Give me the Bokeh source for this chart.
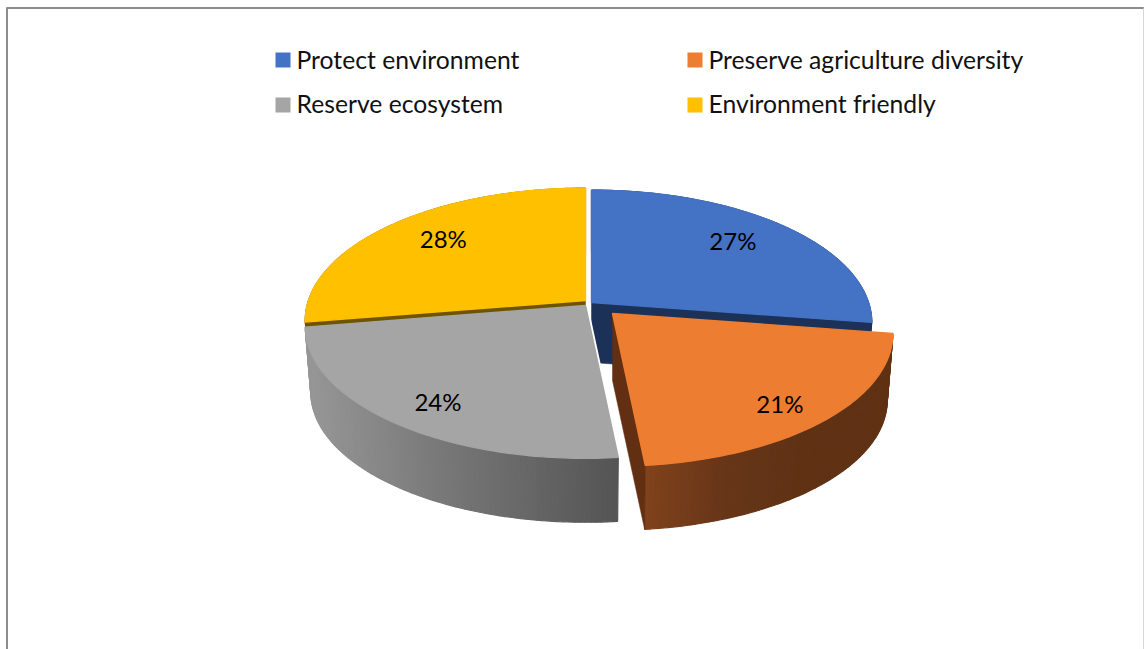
import numpy as np
from bokeh.plotting import figure
from bokeh.models import Range1d
from bokeh.core.properties import value
from bokeh.embed import file_html
from bokeh.resources import INLINE

# --- data ---
categories = ["Protect environment", "Preserve agriculture diversity", "Reserve ecosystem", "Environment friendly"]
shares = [27.4, 21.0, 24.0, 27.6]

# --- styles ---
top_colors = ["#4472C4", "#ED7D31", "#A5A5A5", "#FFC000"]
cut_colors = ["#1B3157", "#632F12", "#555555", "#6E5400"]
FONT = "Lato"

# --- pie geometry (screen pixels; y grows downwards) ---
R, B, K = 277.0, 129.5, 0.1525      # perspective ellipse
BASE_SCALE = 0.98
apex_x = [591, 612, 585, 585]
apex_y = [302, 313, 305, 300]
depth = [60, 67, 67, 65]
label_fx = [0.74, 0.78, 0.77, 0.74]
label_fy = [0.81, 0.85, 0.82, 0.81]


def proj(theta):
    c, s = np.cos(theta), np.sin(theta)
    d = 1 + K * c
    return R * s / d, -B * c / d


def lerp_stops(x, stops):
    xs = [a for a, _ in stops]
    return "#%02x%02x%02x" % tuple(
        int(round(np.interp(x, xs, [c[i] for _, c in stops]))) for i in range(3)
    )


wall_stops = {
    0: [(0, (27, 49, 87)), (1144, (27, 49, 87))],
    1: [(645, (128, 66, 27)), (720, (104, 54, 25)), (800, (96, 50, 20)), (900, (96, 50, 20))],
    2: [(310, (150, 150, 150)), (450, (118, 118, 118)), (620, (84, 84, 84))],
    3: [(0, (127, 96, 0)), (1144, (127, 96, 0))],
}

p = figure(width=1144, height=649, output_backend="svg", toolbar_location=None,
           x_range=Range1d(0, 1144), y_range=Range1d(649, 0), min_border=0)
p.axis.visible = False
p.grid.visible = False
p.outline_line_color = None
p.background_fill_color = "white"

# frame of the original picture
p.segment([6], [7.5], [1144], [7.5], line_color="#8c8c8c", line_width=2)
p.segment([6.5], [7], [6.5], [649], line_color="#8c8c8c", line_width=2)
p.segment([1143.5], [7], [1143.5], [649], line_color="#c8c8c8", line_width=1.5)

fractions = np.array(shares) / sum(shares)
ends = np.cumsum(fractions) * 2 * np.pi
starts = ends - fractions * 2 * np.pi


def draw_slice(i, cut_at):
    """outer wall, cut wall(s); returns the rim of the top face of slice i"""
    ax, ay, d = apex_x[i], apex_y[i], depth[i]
    th = np.linspace(starts[i], ends[i], 90)
    px, py = proj(th)
    tx, ty = ax + px, ay + py
    bx, by = ax + BASE_SCALE * px, ay + d + BASE_SCALE * py
    xs, ys, cols = [], [], []
    for j in range(len(th) - 1):
        xs.append([tx[j], tx[j + 1], bx[j + 1], bx[j]])
        ys.append([ty[j], ty[j + 1], by[j + 1], by[j]])
        cols.append(lerp_stops((tx[j] + tx[j + 1]) / 2, wall_stops[i]))
    p.patches(xs, ys, fill_color=cols, line_color=cols, line_width=1.2)
    for a in cut_at:
        qx, qy = proj(np.array([a]))
        qx, qy = float(qx[0]), float(qy[0])
        p.patch([ax, ax + qx, ax + BASE_SCALE * qx, ax],
                [ay, ay + qy, ay + d + BASE_SCALE * qy, ay + d],
                fill_color=cut_colors[i], line_color=cut_colors[i], line_width=0.5)
    return tx, ty


def draw_top(i, tx, ty):
    p.patch(list(tx) + [apex_x[i]], list(ty) + [apex_y[i]],
            fill_color=top_colors[i], line_color=top_colors[i], line_width=1.4)


# painter's order: back slices first
tx, ty = draw_slice(0, [ends[0]])
draw_top(0, tx, ty)
tx, ty = draw_slice(3, [starts[3]])
draw_top(3, tx, ty)
tx, ty = draw_slice(2, [])
gx, gy = proj(np.array([starts[2]]))
p.segment([apex_x[2]], [apex_y[2]], [apex_x[2] + float(gx[0])], [apex_y[2] + float(gy[0])],
          line_color="white", line_width=5)
draw_top(2, tx, ty)
tx, ty = draw_slice(1, [ends[1]])
draw_top(1, tx, ty)

# data labels
mids = (starts + ends) / 2
lx, ly, lt = [], [], []
for i, m in enumerate(mids):
    mx, my = proj(np.array([m]))
    lx.append(apex_x[i] + float(mx[0]) * label_fx[i])
    ly.append(apex_y[i] + float(my[0]) * label_fy[i])
    lt.append(f"{round(shares[i])}%")
p.text(lx, ly, text=lt, text_font=value(FONT), text_font_size="24px", text_color="black",
       text_align="center", text_baseline="middle")

# legend
leg_x = [275, 687, 275, 687]
leg_y = [52, 52, 97, 97]
leg_text_y = [59, 59, 103, 103]
SW = 15
p.quad(left=leg_x, right=[x + SW for x in leg_x], top=leg_y, bottom=[y + SW for y in leg_y],
       fill_color=top_colors, line_color=None)
p.text([x + 21 for x in leg_x], leg_text_y, text=categories,
       text_font=value(FONT), text_font_size="24.7px", text_color="#111111",
       text_align="left", text_baseline="middle")

open("out.html", "w").write(file_html(p, INLINE))
